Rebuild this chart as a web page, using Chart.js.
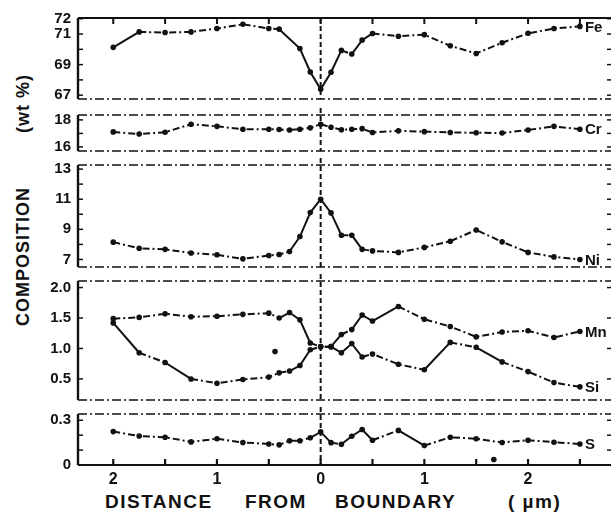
<!DOCTYPE html>
<html>
<head>
<meta charset="utf-8">
<script src="https://cdn.jsdelivr.net/npm/chart.js@4.4.0/dist/chart.umd.min.js"></script>
<style>
  body { margin: 0; background: #fff; }
  #wrap { position: relative; width: 615px; height: 518px; overflow: hidden; background: #fff; }
  #wrap canvas { position: absolute; left: 0; }
  .ttl { position: absolute; font: bold 19px "Liberation Sans", Arial, sans-serif; color: #111; white-space: pre; letter-spacing: 1.5px; }
  #ytitle { position: absolute; left: 23px; top: 200px; transform: translate(-50%, -50%) rotate(-90deg);
            font: bold 18px "Liberation Sans", Arial, sans-serif; color: #111; white-space: pre; letter-spacing: 1px; }
</style>
</head>
<body>
<div id="wrap">
  <div id="ytitle"><span>COMPOSITION</span><span style="margin-left:54px">(wt %)</span></div>
  <div class="ttl" style="left:105px;top:491px">DISTANCE</div>
  <div class="ttl" style="left:245px;top:491px">FROM</div>
  <div class="ttl" style="left:335px;top:491px">BOUNDARY</div>
  <div class="ttl" style="left:508px;top:491px">( µm)</div>
</div>
<script>
// distance from boundary (um), left side negative
const xFe = [-2, -1.75, -1.5, -1.25, -1, -0.75, -0.5, -0.4, -0.2, -0.1, 0, 0.1, 0.2, 0.3, 0.4, 0.5, 0.75, 1, 1.25, 1.5, 1.75, 2, 2.25, 2.5];
const xPts = [-2, -1.75, -1.5, -1.25, -1, -0.75, -0.5, -0.4, -0.3, -0.2, -0.1, 0, 0.1, 0.2, 0.3, 0.4, 0.5, 0.75, 1, 1.25, 1.5, 1.75, 2, 2.25, 2.5];

const fe = [70.13, 71.14, 71.1, 71.14, 71.36, 71.64, 71.36, 71.32, 70.05, 68.52, 67.38, 68.5, 69.93, 69.69, 70.6, 71.04, 70.86, 70.96, 70.23, 69.73, 70.43, 71.05, 71.36, 71.5];
const cr = [17.11, 16.95, 17.09, 17.68, 17.52, 17.31, 17.31, 17.29, 17.25, 17.31, 17.41, 17.68, 17.45, 17.27, 17.31, 17.35, 17.07, 17.19, 17.13, 17.07, 17.05, 17.03, 17.25, 17.52, 17.31];
const ni = [8.15, 7.74, 7.67, 7.43, 7.31, 7.04, 7.26, 7.33, 7.53, 8.52, 10.11, 11.0, 10.09, 8.61, 8.61, 7.67, 7.57, 7.47, 7.8, 8.21, 8.96, 8.17, 7.47, 7.17, 7.0];
const mn = [1.49, 1.51, 1.57, 1.52, 1.53, 1.56, 1.58, 1.50, 1.59, 1.47, 1.09, 1.03, 1.03, 1.23, 1.31, 1.55, 1.45, 1.69, 1.48, 1.36, 1.19, 1.27, 1.29, 1.18, 1.28];
const si = [1.42, 0.93, 0.77, 0.50, 0.43, 0.49, 0.53, 0.60, 0.63, 0.72, 0.98, 1.03, 1.03, 0.93, 1.08, 0.86, 0.91, 0.74, 0.65, 1.10, 1.02, 0.78, 0.62, 0.44, 0.37];
const s = [0.224, 0.194, 0.186, 0.155, 0.176, 0.151, 0.141, 0.135, 0.163, 0.163, 0.182, 0.222, 0.150, 0.139, 0.193, 0.238, 0.166, 0.232, 0.130, 0.186, 0.176, 0.151, 0.166, 0.153, 0.141];

// loose dots in the scan
const mnSiStrayX = [-0.44], mnSiStrayY = [0.95];
const sStrayX = [1.67], sStrayY = [0.037];

// tick values and labels
const xTickValues = [-2, -1.5, -1, -0.5, 0, 0.5, 1, 1.5, 2, 2.5];
const xTickLabels = ['2', '', '1', '', '0', '', '1', '', '2', ''];
const feTicks = [67, 68, 69, 70, 71, 72], feTickLabels = ['67', '', '69', '', '71', '72'];
const crTicks = [16, 17, 18], crTickLabels = ['16', '', '18'];
const niTicks = [7, 8, 9, 10, 11, 12, 13], niTickLabels = ['7', '', '9', '', '11', '', '13'];
const mnSiTicks = [0.5, 1.0, 1.5, 2.0], mnSiTickLabels = ['0.5', '1.0', '1.5', '2.0'];
const sTicks = [0, 0.1, 0.2, 0.3], sTickLabels = ['0', '', '', '0.3'];

const X_MIN = -2.34, X_MAX = 2.8;
const PAD = 12;
const FONT = '"Liberation Sans", Arial, sans-serif';
const INK = '#111';
const wrap = document.getElementById('wrap');

function pts(xs, ys) { return xs.map((v, i) => ({ x: v, y: ys[i] })); }

function series(label, xs, ys) {
  return {
    label: label,
    data: pts(xs, ys),
    borderColor: INK,
    backgroundColor: INK,
    borderWidth: 2,
    pointRadius: 2.8,
    pointBorderWidth: 0,
    pointBackgroundColor: INK,
    tension: 0,
    segment: {
      borderDash: ctx => {
        const dx = Math.abs(ctx.p1.x - ctx.p0.x), dy = Math.abs(ctx.p1.y - ctx.p0.y);
        return dy > dx * 0.5 ? [] : [7, 3, 2, 3];
      }
    }
  };
}

function stray(xs, ys) {
  return { label: '', data: pts(xs, ys), showLine: false, pointRadius: 2.8, pointBorderWidth: 0, pointBackgroundColor: INK };
}

const framePlugin = {
  id: 'frame',
  beforeDatasetsDraw(chart, args, o) {
    const { ctx, chartArea: a, scales: { x } } = chart;
    const px = x.getPixelForValue(0);
    ctx.save();
    ctx.strokeStyle = INK; ctx.lineWidth = 2; ctx.setLineDash([5, 3]);
    ctx.beginPath(); ctx.moveTo(px, o.first ? a.top : a.top - 7); ctx.lineTo(px, a.bottom); ctx.stroke();
    ctx.restore();
  },
  afterDatasetsDraw(chart, args, o) {
    const { ctx, chartArea: a, scales: { x, y } } = chart;
    const line = (x0, y0, x1, y1) => { ctx.beginPath(); ctx.moveTo(x0, y0); ctx.lineTo(x1, y1); ctx.stroke(); };
    ctx.save();
    ctx.strokeStyle = INK;
    ctx.setLineDash([]);
    ctx.lineWidth = 2.4;
    line(a.left, a.top, a.left, a.bottom);
    ctx.lineWidth = 1.5;
    y.ticks.forEach(t => {
      const py = y.getPixelForValue(t.value);
      line(a.left, py, a.left + 5, py);
      line(a.right - 4, py, a.right, py);
    });
    if (o.first) {
      ctx.lineWidth = 2;
      line(a.left, a.top, a.right, a.top);
      xTickValues.forEach(v => { const px = x.getPixelForValue(v); line(px, a.top, px, a.top + 6); });
    } else {
      ctx.lineWidth = 1.3; ctx.setLineDash([9, 3, 2, 3]);
      line(a.left, a.top, a.right, a.top);
      ctx.setLineDash([]);
    }
    if (o.last) {
      ctx.lineWidth = 2.2;
      line(a.left, a.bottom, a.right, a.bottom);
      xTickValues.forEach(v => { const px = x.getPixelForValue(v); line(px, a.bottom, px, a.bottom - 6); });
    } else {
      ctx.lineWidth = 1.3; ctx.setLineDash([9, 3, 2, 3]);
      line(a.left, a.bottom, a.right, a.bottom);
      ctx.setLineDash([]);
    }
    // element names at the right end of each curve
    ctx.fillStyle = INK;
    ctx.font = 'bold 15px ' + FONT;
    ctx.textBaseline = 'middle';
    chart.data.datasets.forEach((d, i) => {
      if (!d.label) return;
      const el = chart.getDatasetMeta(i).data;
      const p = el[el.length - 1];
      ctx.fillText(d.label, p.x + 5, p.y + 1);
    });
    ctx.restore();
  }
};

function makePanel(p) {
  const c = document.createElement('canvas');
  const top = p.top - PAD;
  const h = p.last ? 518 - top : (p.bottom - p.top) + 2 * PAD;
  c.width = 615; c.height = h;
  c.style.top = top + 'px';
  c.style.width = '615px'; c.style.height = h + 'px';
  wrap.appendChild(c);

  new Chart(c.getContext('2d'), {
    type: 'line',
    data: { datasets: p.datasets },
    options: {
      responsive: false,
      animation: false,
      layout: { padding: { left: 0, right: 3, top: PAD, bottom: p.last ? 0 : PAD } },
      plugins: { legend: { display: false }, tooltip: { enabled: false }, frame: { first: !!p.first, last: !!p.last } },
      scales: {
        x: {
          type: 'linear', min: X_MIN, max: X_MAX,
          display: !!p.last,
          grid: { display: false, drawTicks: false },
          border: { display: false },
          afterBuildTicks: sc => { sc.ticks = xTickValues.map(v => ({ value: v })); },
          afterFit: sc => { sc.height = p.last ? 53 : 0; },
          ticks: {
            autoSkip: false, maxRotation: 0, padding: 5, color: INK,
            font: { family: FONT, size: 16, weight: 'bold' },
            callback: (v, i) => xTickLabels[i]
          }
        },
        y: {
          min: p.min, max: p.max,
          grid: { display: false, drawTicks: false },
          border: { display: false },
          afterBuildTicks: sc => { sc.ticks = p.ticks.map(v => ({ value: v })); },
          afterFit: sc => { sc.width = 78; },
          ticks: {
            autoSkip: false, padding: 7, color: INK,
            font: { family: FONT, size: 15, weight: 'bold' },
            callback: (v, i) => p.tickLabels[i]
          }
        }
      }
    },
    plugins: [framePlugin]
  });
}

makePanel({ top: 14, bottom: 103, min: 66.75, max: 72.05, ticks: feTicks, tickLabels: feTickLabels, first: true,
  datasets: [series('Fe', xFe, fe)] });
makePanel({ top: 111, bottom: 155, min: 15.7, max: 18.36, ticks: crTicks, tickLabels: crTickLabels,
  datasets: [series('Cr', xPts, cr)] });
makePanel({ top: 161, bottom: 271, min: 6.5, max: 13.27, ticks: niTicks, tickLabels: niTickLabels,
  datasets: [series('Ni', xPts, ni)] });
makePanel({ top: 277, bottom: 404, min: 0.154, max: 2.108, ticks: mnSiTicks, tickLabels: mnSiTickLabels,
  datasets: [series('Mn', xPts, mn), series('Si', xPts, si), stray(mnSiStrayX, mnSiStrayY)] });
makePanel({ top: 410, bottom: 465, min: 0, max: 0.342, ticks: sTicks, tickLabels: sTickLabels, last: true,
  datasets: [series('S', xPts, s), stray(sStrayX, sStrayY)] });
</script>
</body>
</html>
